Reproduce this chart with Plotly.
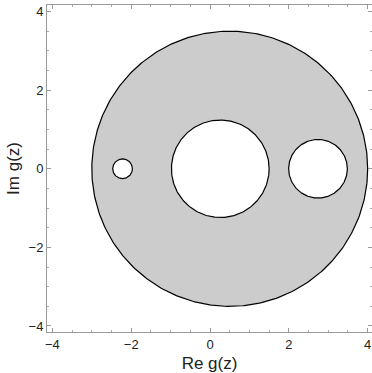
import numpy as np
import plotly.graph_objects as go

# outer disk and holes (center x, center y, radius)
outer_cx, outer_cy, outer_r = 0.5, 0.0, 3.5
hole_cx = [-2.22, 0.26, 2.74]
hole_cy = [0.0, 0.0, 0.0]
hole_r = [0.25, 1.24, 0.745]

xticks = [-4, -2, 0, 2, 4]
yticks = [-4, -2, 0, 2, 4]

t = np.linspace(0, 2 * np.pi, 400)

def circle(cx, cy, r):
    return cx + r * np.cos(t), cy + r * np.sin(t)

fig = go.Figure()
x, y = circle(outer_cx, outer_cy, outer_r)
fig.add_trace(go.Scatter(x=x, y=y, mode="lines", fill="toself",
                         fillcolor="#cccccc", line=dict(color="black", width=1.2),
                         hoverinfo="skip"))
for cx, cy, r in zip(hole_cx, hole_cy, hole_r):
    x, y = circle(cx, cy, r)
    fig.add_trace(go.Scatter(x=x, y=y, mode="lines", fill="toself",
                             fillcolor="white", line=dict(color="black", width=1.2),
                             hoverinfo="skip"))

axis_common = dict(
    showgrid=False, zeroline=False, showline=True, linecolor="#999999", linewidth=1,
    mirror="ticks", ticks="inside", ticklen=4, tickcolor="#999999", tickwidth=1,
    minor=dict(dtick=0.5, ticks="inside", ticklen=2, tickcolor="#aaaaaa"),
    tickfont=dict(family="Liberation Sans, Arial", size=13, color="#222222"),
)

fig.update_layout(
    width=372, height=373,
    margin=dict(l=47, r=0, t=5, b=41),
    paper_bgcolor="white", plot_bgcolor="white",
    showlegend=False,
    xaxis=dict(range=[-4.137, 4.11], tickvals=xticks,
               title=dict(text="Re g(z)", font=dict(family="Liberation Sans, Arial", size=17, color="#222222"), standoff=6),
               **axis_common),
    yaxis=dict(range=[-4.153, 4.166], tickvals=yticks,
               title=dict(text="Im g(z)", font=dict(family="Liberation Sans, Arial", size=17, color="#222222"), standoff=4),
               **axis_common),
)

fig.write_html("out.html", config={"displayModeBar": False},
               post_script="document.body.style.margin='0';document.body.style.overflow='hidden';")
